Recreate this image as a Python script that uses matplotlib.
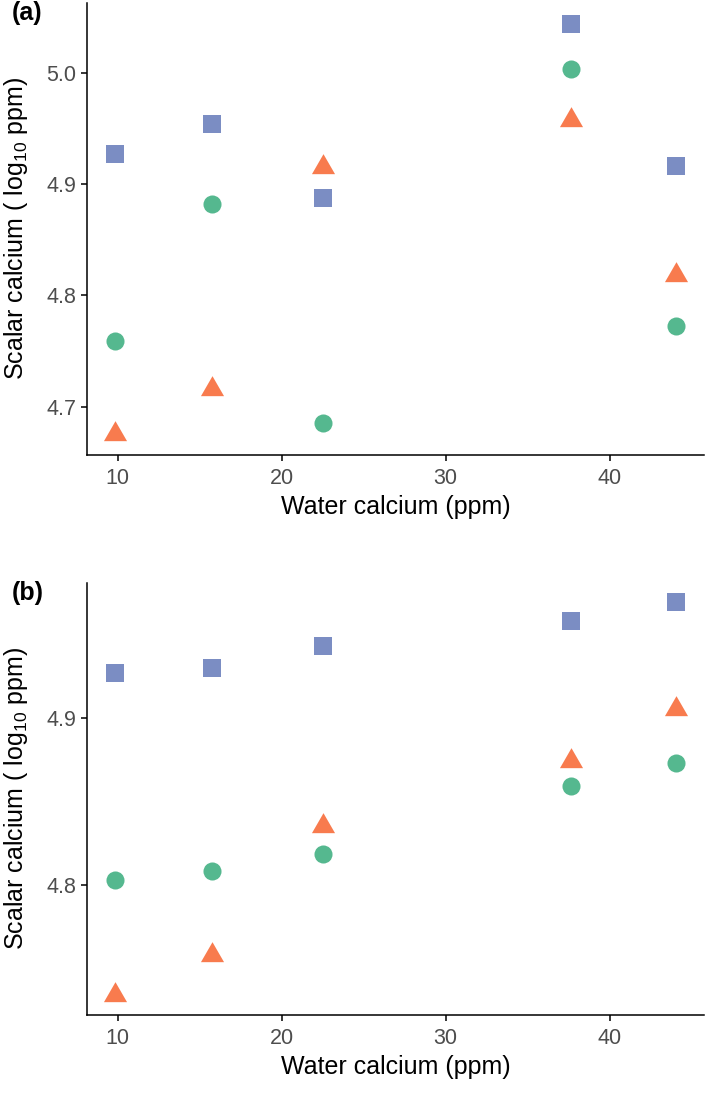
import matplotlib
matplotlib.use("Agg")
import matplotlib.pyplot as plt
from matplotlib.path import Path

plt.rcParams['font.family'] = ['Liberation Sans', 'DejaVu Sans']
plt.rcParams['mathtext.default'] = 'regular'

# water calcium (ppm), shared by both panels
water_ca = [9.85, 15.74, 22.52, 37.62, 44.04]

# panel (a)
a_circle = [4.759, 4.882, 4.685, 5.003, 4.772]
a_triangle = [4.675, 4.716, 4.915, 4.957, 4.818]
a_square = [4.927, 4.954, 4.887, 5.044, 4.916]

# panel (b)
b_circle = [4.803, 4.8085, 4.8186, 4.859, 4.873]
b_triangle = [4.734, 4.758, 4.835, 4.874, 4.905]
b_square = [4.927, 4.930, 4.943, 4.958, 4.969]

a_yticks = [4.7, 4.8, 4.9, 5.0]
b_yticks = [4.8, 4.9]
xticks = [10, 20, 30, 40]

green = '#55B88F'
orange = '#F87B4E'
blue = '#7B8DC3'

# triangle with centroid at the origin, like R's pch 17
tri = Path([(0, 1), (-0.866, -0.5), (0.866, -0.5), (0, 1)],
           [Path.MOVETO, Path.LINETO, Path.LINETO, Path.CLOSEPOLY])

W, H = 709, 1105
fig = plt.figure(figsize=(W / 100, H / 100), dpi=100)

ax_a = fig.add_axes([87 / W, 1 - 455 / H, 617 / W, 452 / H])
ax_b = fig.add_axes([87 / W, 1 - 1015 / H, 617 / W, 432.3 / H])


def draw_panel(ax, circ, trian, sq, yticks, tag):
    ax.plot(water_ca, circ, linestyle='none', marker='o', ms=13, color=green, mew=0)
    ax.plot(water_ca, trian, linestyle='none', marker=tri, ms=19.2, color=orange, mew=0)
    ax.plot(water_ca, sq, linestyle='none', marker='s', ms=13, color=blue, mew=0)
    ax.margins(x=0.05, y=0.05)
    ax.set_xticks(xticks)
    ax.set_yticks(yticks)
    ax.set_yticklabels([f"{t:.1f}" for t in yticks])
    for s in ['top', 'right']:
        ax.spines[s].set_visible(False)
    for s in ['left', 'bottom']:
        ax.spines[s].set_linewidth(1.1)
    ax.tick_params(length=4.5, width=1.1, labelsize=15.5, labelcolor='#4D4D4D')
    ax.tick_params(axis='x', pad=4.5)
    ax.tick_params(axis='y', pad=3)
    ax.set_xlabel('Water calcium (ppm)', fontsize=18, color='black')
    ax.set_ylabel('Scalar calcium ( log$_{10}$ ppm)', fontsize=18, color='black')
    pos = ax.get_position()
    h_px = pos.height * H
    ax.xaxis.set_label_coords(0.5, -40 / h_px)
    ax.yaxis.set_label_coords(-57 / 617, 0.5)
    fig.text(12 / W, pos.y1 - 10 / H, tag, fontsize=18, fontweight='bold',
             ha='left', va='center')


draw_panel(ax_a, a_circle, a_triangle, a_square, a_yticks, '(a)')
draw_panel(ax_b, b_circle, b_triangle, b_square, b_yticks, '(b)')

fig.savefig('out.png', dpi=100)
